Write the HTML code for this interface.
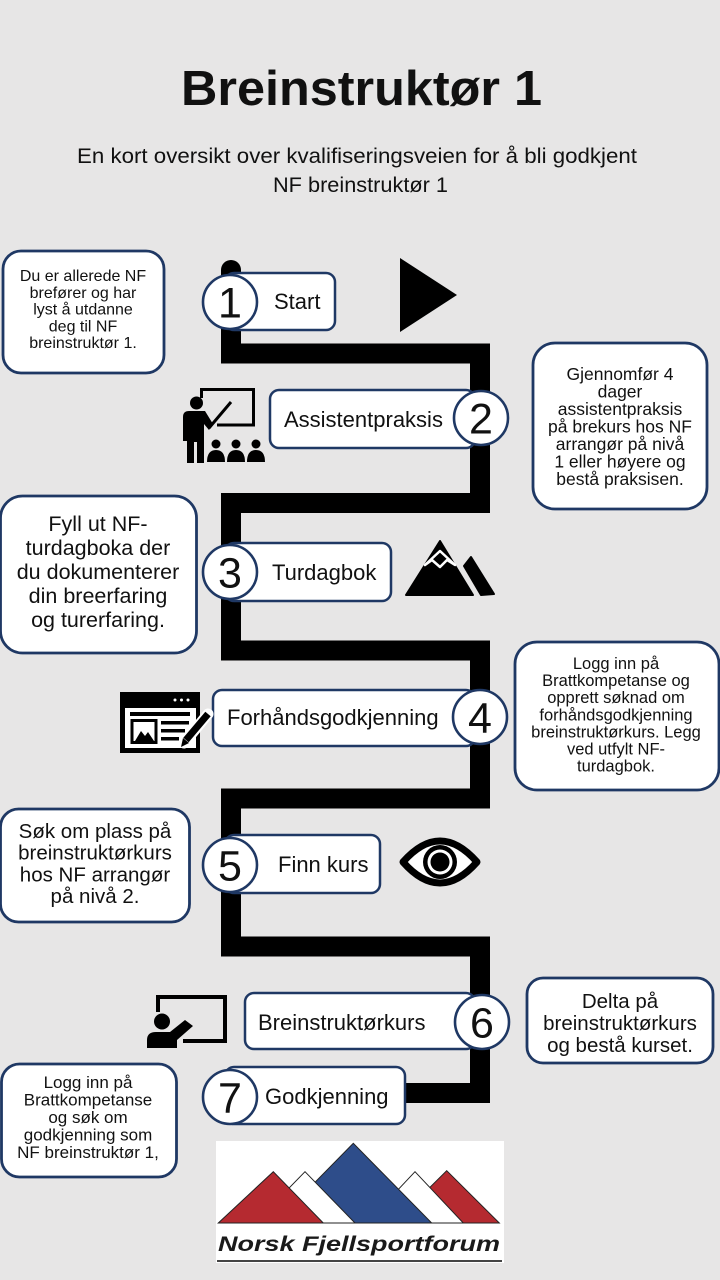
<!DOCTYPE html>
<html><head><meta charset="utf-8"><style>
html,body{margin:0;padding:0;background:#e7e6e6;}
svg{display:block;}
text{font-family:"Liberation Sans",sans-serif;fill:#111;}
</style></head><body>
<svg width="720" height="1280" viewBox="0 0 720 1280" xmlns="http://www.w3.org/2000/svg">
<rect x="0" y="0" width="720" height="1280" fill="#e7e6e6"/>

<!-- Title -->
<text x="361.5" y="105" font-size="49" font-weight="bold" text-anchor="middle" textLength="361" lengthAdjust="spacingAndGlyphs">Breinstruktør 1</text>
<text x="357" y="163" font-size="21" text-anchor="middle" textLength="560" lengthAdjust="spacingAndGlyphs">En kort oversikt over kvalifiseringsveien for å bli godkjent</text>
<text x="360.5" y="192" font-size="21" text-anchor="middle" textLength="175" lengthAdjust="spacingAndGlyphs">NF breinstruktør 1</text>

<!-- Path -->
<polyline points="231,270 231,353.5 480,353.5 480,503 231,503 231,650.5 480,650.5 480,798.5 231,798.5 231,946.5 480,946.5 480,1093 400,1093" fill="none" stroke="#000" stroke-width="20" stroke-linejoin="miter" stroke-linecap="round"/>

<!-- Info boxes -->
<g fill="#fff" stroke="#1f3864" stroke-width="2.8">
<rect x="3" y="251" width="161" height="122" rx="18"/>
<rect x="533" y="343" width="174" height="166" rx="22"/>
<rect x="0.5" y="496" width="196" height="157" rx="22"/>
<rect x="515" y="642" width="204" height="148" rx="22"/>
<rect x="0.5" y="809" width="189" height="113" rx="18"/>
<rect x="1.5" y="1064" width="175" height="113" rx="18"/>
<rect x="527" y="978" width="186" height="85" rx="16"/>
</g>

<!-- Info texts -->
<g text-anchor="middle">
<g font-size="16">
<text x="83" y="281">Du er allerede  NF</text>
<text x="83" y="297.8">brefører og har</text>
<text x="83" y="314.6">lyst å utdanne</text>
<text x="83" y="331.4">deg til NF</text>
<text x="83" y="348.2">breinstruktør 1.</text>
</g>
<g font-size="17.5">
<text x="620" y="380">Gjennomfør 4</text>
<text x="620" y="397.5">dager</text>
<text x="620" y="415">assistentpraksis</text>
<text x="620" y="432.5">på brekurs hos NF</text>
<text x="620" y="450">arrangør på nivå</text>
<text x="620" y="467.5">1 eller høyere og</text>
<text x="620" y="485">bestå praksisen.</text>
</g>
<g font-size="21.5">
<text x="98" y="531">Fyll ut NF-</text>
<text x="98" y="555">turdagboka der</text>
<text x="98" y="579">du dokumenterer</text>
<text x="98" y="603">din breerfaring</text>
<text x="98" y="627">og turerfaring.</text>
</g>
<g font-size="16.5">
<text x="616" y="669">Logg inn på</text>
<text x="616" y="686.1">Brattkompetanse og</text>
<text x="616" y="703.2">opprett søknad om</text>
<text x="616" y="720.3">forhåndsgodkjenning</text>
<text x="616" y="737.4">breinstruktørkurs. Legg</text>
<text x="616" y="754.5">ved utfylt NF-</text>
<text x="616" y="771.6">turdagbok.</text>
</g>
<g font-size="20.5">
<text x="95" y="838">Søk om plass på</text>
<text x="95" y="859.7">breinstruktørkurs</text>
<text x="95" y="881.4">hos NF arrangør</text>
<text x="95" y="903">på nivå 2.</text>
</g>
<g font-size="17">
<text x="88" y="1088">Logg inn på</text>
<text x="88" y="1105.5">Brattkompetanse</text>
<text x="88" y="1123">og søk om</text>
<text x="88" y="1140.5">godkjenning som</text>
<text x="88" y="1158">NF breinstruktør 1,</text>
</g>
<g font-size="20.5">
<text x="620" y="1008">Delta på</text>
<text x="620" y="1030">breinstruktørkurs</text>
<text x="620" y="1052">og bestå kurset.</text>
</g>
</g>

<!-- Label boxes -->
<g fill="#fff" stroke="#1f3864" stroke-width="2.5">
<rect x="225" y="273" width="110" height="57" rx="9"/>
<rect x="270" y="390" width="205" height="58" rx="9"/>
<rect x="225" y="543" width="166" height="58" rx="9"/>
<rect x="213" y="690" width="262" height="56" rx="9"/>
<rect x="225" y="835" width="155" height="58" rx="9"/>
<rect x="245" y="993" width="230" height="56" rx="9"/>
<rect x="225" y="1067" width="180" height="57" rx="9"/>
</g>
<g font-size="22">
<text x="274" y="309">Start</text>
<text x="284" y="427">Assistentpraksis</text>
<text x="272" y="580">Turdagbok</text>
<text x="227" y="725">Forhåndsgodkjenning</text>
<text x="278" y="872">Finn kurs</text>
<text x="258" y="1030">Breinstruktørkurs</text>
<text x="265" y="1104">Godkjenning</text>
</g>

<!-- Circles -->
<g fill="#fff" stroke="#1f3864" stroke-width="2.6">
<circle cx="230" cy="302" r="27"/>
<circle cx="481" cy="418" r="27"/>
<circle cx="230" cy="572" r="27"/>
<circle cx="480" cy="717" r="27"/>
<circle cx="230" cy="865" r="27"/>
<circle cx="482" cy="1022" r="27"/>
<circle cx="230" cy="1097" r="27"/>
</g>
<g font-size="43" text-anchor="middle">
<text x="230" y="317.5">1</text>
<text x="481" y="433.5">2</text>
<text x="230" y="587.5">3</text>
<text x="480" y="732.5">4</text>
<text x="230" y="880.5">5</text>
<text x="482" y="1037.5">6</text>
<text x="230" y="1112.5">7</text>
</g>

<!-- Play triangle -->
<polygon points="400,258 457,295 400,332" fill="#000"/>

<!-- Teacher icon step 2 -->
<g fill="#000">
<path d="M201.5 398 V389.5 H253.5 V425 H217" fill="none" stroke="#000" stroke-width="3"/>
<circle cx="196.5" cy="403" r="6.5"/>
<path d="M183 417 Q183 411 189 411 H205 L213 424 L209 430 L204 424 V463 H197 V442 H194 V463 H187 V441 H183 Z"/>
<line x1="209" y1="428" x2="231" y2="402" stroke="#000" stroke-width="3"/>
<circle cx="216" cy="444" r="4.5"/>
<circle cx="236" cy="444" r="4.5"/>
<circle cx="256" cy="444" r="4.5"/>
<path d="M207 462 Q207 450 216 450 Q225 450 225 462 Z"/>
<path d="M227 462 Q227 450 236 450 Q245 450 245 462 Z"/>
<path d="M247 462 Q247 450 256 450 Q265 450 265 462 Z"/>
</g>

<!-- Mountain icon step 3 -->
<g fill="#000" stroke="#000" stroke-width="2" stroke-linejoin="round">
<polygon points="406,595 440,541 473,595"/>
<polygon points="464,566 471,557 494,594 481,595"/>
</g>
<polygon points="425,565 440,551 455,565 447,560 440,567 432,560" fill="none" stroke="#fff" stroke-width="2.5" stroke-linejoin="round"/>

<!-- Form icon step 4 -->
<rect x="120" y="692" width="80" height="61" fill="#000"/>
<g fill="#fff">
<circle cx="175" cy="700" r="1.5"/>
<circle cx="181.5" cy="700" r="1.5"/>
<circle cx="188" cy="700" r="1.5"/>
<rect x="125" y="708" width="71" height="40"/>
</g>
<g fill="#000">
<rect x="130" y="712" width="60" height="4"/>
<rect x="161" y="721" width="28" height="3.5"/>
<rect x="161" y="729" width="24" height="3.5"/>
<rect x="161" y="737" width="18" height="3.5"/>
</g>
<rect x="132" y="720.5" width="24" height="22" fill="#fff" stroke="#000" stroke-width="3"/>
<polygon points="135,741 141,731 145,736 148,732 154,741" fill="#000"/>
<line x1="184" y1="743" x2="208" y2="714" stroke="#fff" stroke-width="11" stroke-linecap="round"/>
<line x1="186" y1="740" x2="208" y2="714" stroke="#000" stroke-width="7"/>
<polygon points="181,747 183,738 189,743" fill="#000"/>

<!-- Eye icon step 5 -->
<path d="M403 862 Q440 820 477 862 Q440 904 403 862 Z" fill="#fff" stroke="#000" stroke-width="7" stroke-linejoin="round"/>
<circle cx="440" cy="862" r="17" fill="#000"/>
<circle cx="440" cy="862" r="12.5" fill="#fff"/>
<circle cx="440" cy="862" r="9.5" fill="#000"/>

<!-- Teacher icon step 6 -->
<path d="M158 1012 V997 H225 V1041 H183" fill="none" stroke="#000" stroke-width="4"/>
<circle cx="162" cy="1021.5" r="8" fill="#000"/>
<path d="M147 1048 V1040 Q147 1032 156 1032 H170 L185 1020 L193 1026 L177 1040 V1048 Z" fill="#000"/>

<!-- Logo -->
<rect x="216" y="1141" width="288" height="122" fill="#fff"/>
<g stroke="#222" stroke-width="1" stroke-linejoin="miter">
<polygon points="394,1223 446.7,1170.7 499.3,1223" fill="#b52a30"/>
<polygon points="366.7,1223 415,1171.7 463.3,1223" fill="#fff"/>
<polygon points="275,1223 353.3,1143.3 431.7,1223" fill="#2e4d8a"/>
<polygon points="255,1223 305,1171.7 355,1223" fill="#fff"/>
<polygon points="218.3,1223 273.3,1171.7 323.3,1223" fill="#b52a30"/>
</g>
<text x="218" y="1251" font-size="21" font-weight="bold" font-style="italic" textLength="282" lengthAdjust="spacingAndGlyphs" style="fill:#1a1a1a">Norsk Fjellsportforum</text>
<line x1="217" y1="1261" x2="502" y2="1261" stroke="#444" stroke-width="2"/>
</svg>
</body></html>
